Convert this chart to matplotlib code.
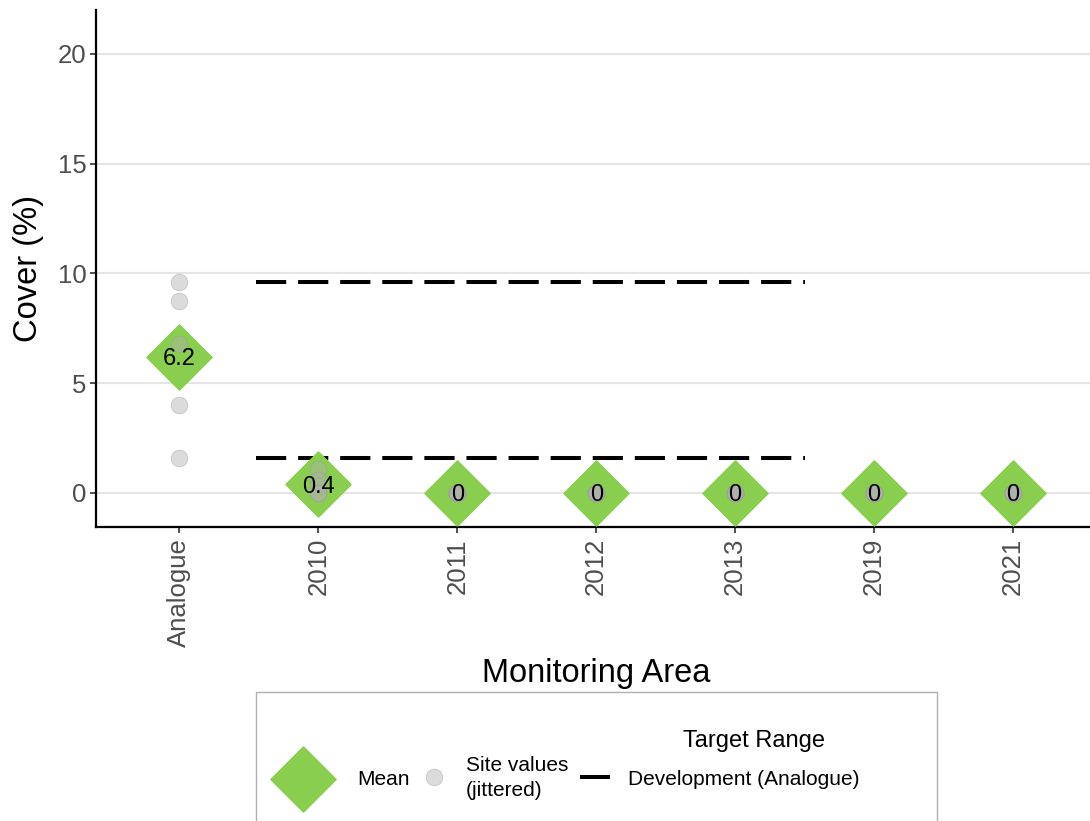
import matplotlib
matplotlib.use("Agg")
import matplotlib.pyplot as plt
from matplotlib.lines import Line2D
from matplotlib.patches import Rectangle
import numpy as np

plt.rcParams['font.family'] = ['Liberation Sans', 'DejaVu Sans']

# Monitoring areas and per-site cover values (%)
areas = ["Analogue", "2010", "2011", "2012", "2013", "2019", "2021"]
site_values = {
    "Analogue": [9.6, 8.75, 6.8, 4.0, 1.6],
    "2010": [1.1, 0.6, 0.3, 0.0, 0.0],
    "2011": [0.0, 0.0, 0.0, 0.0, 0.0],
    "2012": [0.0, 0.0, 0.0, 0.0, 0.0],
    "2013": [0.0, 0.0, 0.0, 0.0, 0.0],
    "2019": [0.0, 0.0, 0.0, 0.0, 0.0],
    "2021": [0.0, 0.0, 0.0, 0.0, 0.0],
}
mean_labels = ["6.2", "0.4", "0", "0", "0", "0", "0"]
mean_values = [float(v) for v in mean_labels]

# Development target range taken from the analogue sites
target_low = 1.6
target_high = 9.6
target_span = (0.55, 4.5)   # spans the 2010-2013 areas

y_ticks = [0, 5, 10, 15, 20]

GREEN = "#8ACE4F"
TICK_GREY = "#4d4d4d"

W, H = 1090, 821
fig = plt.figure(figsize=(W / 100, H / 100), dpi=100)
ax = fig.add_axes([96 / W, 1 - 527 / H, (1096.4 - 96) / W, (527 - 10) / H])

x = np.arange(len(areas))

# grid
ax.set_yticks(y_ticks)
ax.yaxis.grid(True, color="#e5e5e5", lw=1.5)
ax.xaxis.grid(False)
ax.set_axisbelow(True)

# target range lines
for yv in (target_low, target_high):
    ax.plot(target_span, [yv, yv], color="black", lw=2.9,
            dashes=(7.5, 2.95), solid_capstyle="butt", dash_capstyle="butt",
            zorder=2)

# means as diamonds
ax.plot(x, mean_values, linestyle="none", marker=(4, 0, 0), ms=47,
        color=GREEN, mec=GREEN, zorder=3)

# site values on top
for i, a in enumerate(areas):
    vals = site_values[a]
    ax.plot([i] * len(vals), vals, linestyle="none", marker="o", ms=12,
            mfc="#b0b0b0", mec="#9a9a9a", mew=0.6, alpha=0.45, zorder=4)

# mean labels
for i, lab in enumerate(mean_labels):
    ax.text(i, mean_values[i], lab, ha="center", va="center_baseline",
            fontsize=17, color="black", zorder=5)

ax.set_xlim(-0.6, 6.6)
ax.set_ylim(-1.55, 22.0)
ax.set_xticks(x)
ax.set_xticklabels(areas, rotation=90, ha="center", va="top")
ax.tick_params(axis="both", labelsize=18.5, labelcolor=TICK_GREY,
               color="#333333", length=4, width=1.2)
ax.tick_params(axis="y", pad=3)
ax.tick_params(axis="x", pad=4)

for s in ("top", "right"):
    ax.spines[s].set_visible(False)
for s in ("left", "bottom"):
    ax.spines[s].set_linewidth(1.6)
    ax.spines[s].set_color("black")

ax.set_ylabel("Cover (%)", fontsize=23.5, labelpad=10)
ax.set_xlabel("Monitoring Area", fontsize=23.5, labelpad=8)

# legend box
def fx(px):
    return px / W

def fy(py):
    return 1 - py / H

fig.patches.append(Rectangle((fx(256), fy(840)), fx(937) - fx(256),
                             fy(692) - fy(840), transform=fig.transFigure,
                             fill=False, edgecolor="#b0b0b0", lw=1.0))
fig.lines.append(Line2D([fx(303)], [fy(779)], transform=fig.transFigure,
                        linestyle="none", marker=(4, 0, 0), ms=47,
                        color=GREEN, mec=GREEN))
fig.text(fx(357), fy(779), "Mean", fontsize=15, va="center", ha="left")
fig.lines.append(Line2D([fx(434)], [fy(777)], transform=fig.transFigure,
                        linestyle="none", marker="o", ms=12,
                        mfc="#b0b0b0", mec="#9a9a9a", mew=0.6, alpha=0.45))
fig.text(fx(466), fy(778), "Site values\n(jittered)", fontsize=15,
         va="center", ha="left", linespacing=1.4)
fig.lines.append(Line2D([fx(580), fx(610)], [fy(777), fy(777)],
                        transform=fig.transFigure, color="black", lw=2.9,
                        solid_capstyle="butt"))
fig.text(fx(628), fy(779), "Development (Analogue)", fontsize=15,
         va="center", ha="left")
fig.text(fx(683), fy(741), "Target Range", fontsize=17, va="center",
         ha="left")

fig.savefig("out.png", dpi=100)
